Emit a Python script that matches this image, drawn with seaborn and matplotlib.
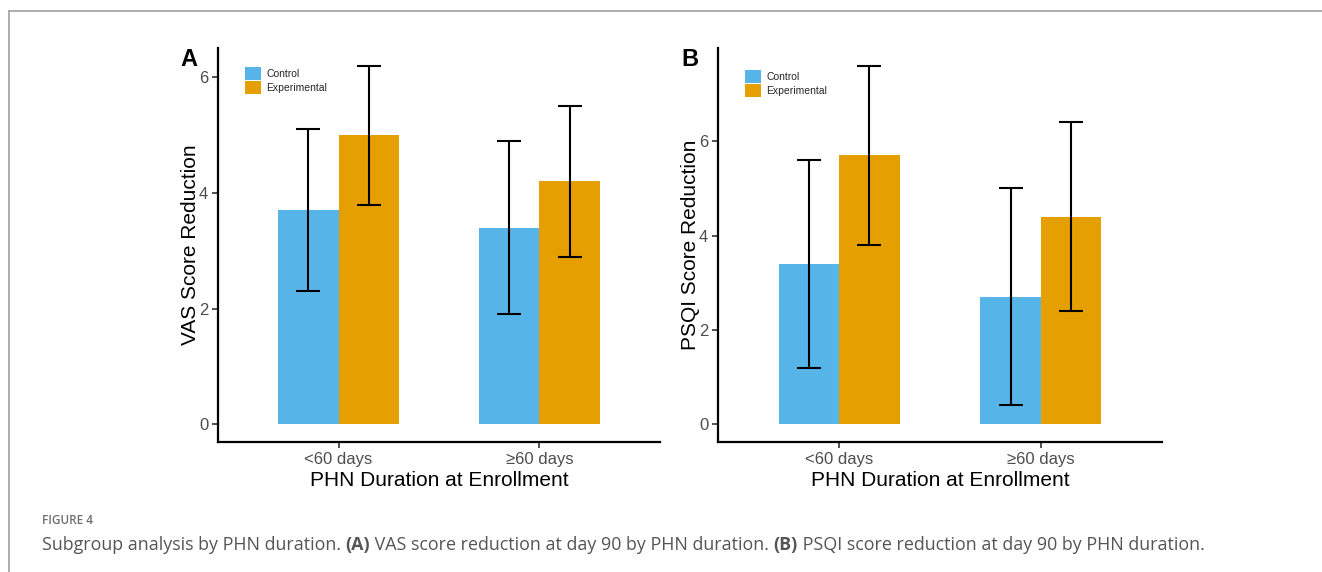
import matplotlib
matplotlib.use("Agg")
import matplotlib.pyplot as plt
import seaborn as sns
import pandas as pd
from matplotlib.patches import Patch
from matplotlib.lines import Line2D

# ---- data ----
durations = ["<60 days", "≥60 days"]
groups = ["Control", "Experimental"]
vas_control = [3.7, 3.4]
vas_control_err = [1.4, 1.5]
vas_exp = [5.0, 4.2]
vas_exp_err = [1.2, 1.3]
psqi_control = [3.4, 2.7]
psqi_control_err = [2.2, 2.3]
psqi_exp = [5.7, 4.4]
psqi_exp_err = [1.9, 2.0]
yticks = [0, 2, 4, 6]
colors = {"Control": "#56B4E9", "Experimental": "#E69F00"}

sns.set_style("white")
plt.rcParams["font.family"] = ["Liberation Sans", "DejaVu Sans"]

W, H = 1322, 572
fig = plt.figure(figsize=(W / 100, H / 100), dpi=100)


def frac(x0, x1, ytop, ybot):
    return [x0 / W, 1 - ybot / H, (x1 - x0) / W, (ybot - ytop) / H]


def panel(rect, ctrl, ctrl_err, exp, exp_err, ylabel, legend_top):
    ax = fig.add_axes(rect)
    df = pd.DataFrame({
        "Duration": durations * 2,
        "Group": [groups[0]] * 2 + [groups[1]] * 2,
        "Value": list(ctrl) + list(exp),
        "Err": list(ctrl_err) + list(exp_err),
    })
    sns.barplot(data=df, x="Duration", y="Value", hue="Group", order=durations,
                hue_order=groups, palette=colors, width=0.6, errorbar=None,
                saturation=1, linewidth=0, ax=ax, legend=False)
    # error bars at bar centers (bars come in hue order, then category order)
    bars = [p for p in ax.patches if p.get_height() > 0]
    errs = list(ctrl_err) + list(exp_err)
    for p, e in zip(bars, errs):
        cx = p.get_x() + p.get_width() / 2
        h = p.get_height()
        ax.errorbar(cx, h, yerr=e, color="black", capsize=8.5,
                    elinewidth=1.5, capthick=1.5, fmt="none")
    top = max(v + e for v, e in zip(list(ctrl) + list(exp), errs))
    pad = top * 0.05
    ax.set_ylim(-pad, top + pad)
    ax.set_xlim(-0.6, 1.6)
    ax.set_yticks(yticks)
    ax.set_yticklabels([str(t) for t in yticks])
    for s in ["top", "right"]:
        ax.spines[s].set_visible(False)
    for s in ["left", "bottom"]:
        ax.spines[s].set_color("black")
        ax.spines[s].set_linewidth(1.6)
    ax.tick_params(axis="both", which="both", direction="out", length=4, width=1.2,
                   color="#333333", labelcolor="#4D4D4D", labelsize=12, pad=3,
                   left=True, bottom=True)
    ax.set_xlabel("PHN Duration at Enrollment", fontsize=15, color="black", labelpad=3)
    ax.set_ylabel(ylabel, fontsize=15, color="black", labelpad=-1)
    handles = [Patch(facecolor=colors[g], edgecolor="none", label=g) for g in groups]
    ax.legend(handles=handles, loc="upper left", bbox_to_anchor=(0.061, legend_top),
              frameon=False, fontsize=7.5, handlelength=1.55, handleheight=1.55,
              handletextpad=0.5, labelspacing=0.1, borderaxespad=0,
              borderpad=0)
    return ax


axA = panel(frac(218, 660, 48, 442), vas_control, vas_control_err, vas_exp, vas_exp_err,
            "VAS Score Reduction", 0.952)
axB = panel(frac(718, 1162, 48, 442), psqi_control, psqi_control_err, psqi_exp, psqi_exp_err,
            "PSQI Score Reduction", 0.945)

fig.text(180 / W, 1 - 66 / H, "A", fontsize=17, fontweight="bold", color="black")
fig.text(681 / W, 1 - 66 / H, "B", fontsize=17, fontweight="bold", color="black")

# page frame lines
fig.add_artist(Line2D([9 / W, 1], [1 - 11 / H, 1 - 11 / H], color="#A0A0A0", lw=1.2))
fig.add_artist(Line2D([9 / W, 9 / W], [0, 1 - 11 / H], color="#A0A0A0", lw=1.2))

# caption
cap_font = ["Open Sans", "DejaVu Sans"]
fig.text(42 / W, 1 - 524 / H, "FIGURE 4", fontsize=8.5, color="#6E6E6E",
         family=cap_font, fontweight="semibold")
pieces = [
    ("Subgroup analysis by PHN duration. ", "normal"),
    ("(A)", "bold"),
    (" VAS score reduction at day 90 by PHN duration. ", "normal"),
    ("(B)", "bold"),
    (" PSQI score reduction at day 90 by PHN duration.", "normal"),
]
renderer = fig.canvas.get_renderer()
x = 42
for txt, wt in pieces:
    t = fig.text(x / W, 1 - 550 / H, txt, fontsize=12.9, color="#555555",
                 family=cap_font, fontweight=wt)
    bb = t.get_window_extent(renderer=renderer)
    x += bb.width

fig.savefig("out.png", dpi=100, facecolor="white")
